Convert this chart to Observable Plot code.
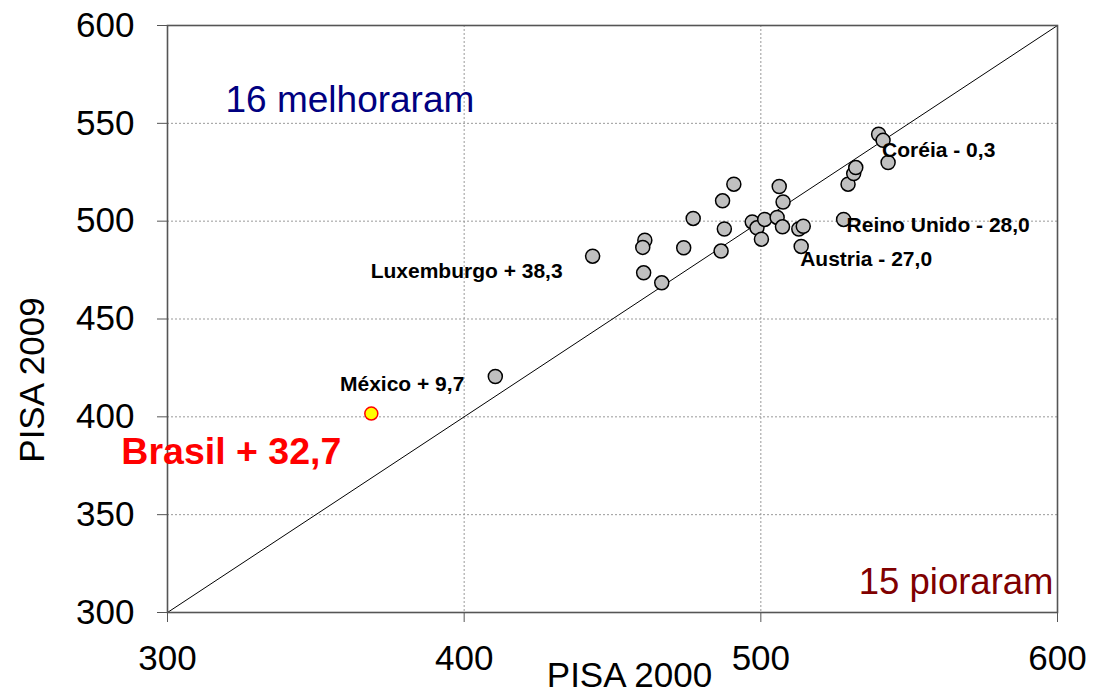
<!DOCTYPE html>
<html>
<head>
<meta charset="utf-8">
<script src="https://cdn.jsdelivr.net/npm/d3@7"></script>
<script src="https://cdn.jsdelivr.net/npm/@observablehq/plot@0.6"></script>
<style>
  html, body { margin: 0; padding: 0; background: #fff; }
  #chart svg { display: block; }
</style>
</head>
<body>
<div id="chart"></div>
<script>
// PISA scores
const pisa2000 = [443.3, 460.9, 460.2, 460.5, 466.6, 474.0, 477.2, 486.6, 487.1, 487.7, 490.9, 497.1, 498.7, 500.2, 501.3, 505.5, 506.2, 507.3, 507.5, 512.8, 514.3, 513.6, 527.9, 529.4, 531.3, 532.0, 539.7, 541.2, 542.9, 410.5, 368.7];
const pisa2009 = [482.1, 490.3, 486.6, 473.6, 468.5, 486.4, 501.4, 484.7, 510.4, 496.0, 518.9, 499.6, 496.6, 490.8, 500.9, 501.9, 517.7, 497.1, 509.8, 496.0, 497.4, 487.1, 500.9, 518.9, 524.3, 527.4, 544.4, 541.3, 530.0, 420.6, 401.7];
const countryLabels = ["Luxemburgo + 38,3", "", "", "", "", "", "", "", "", "", "", "", "", "", "", "", "", "", "", "", "", "Austria - 27,0", "Reino Unido - 28,0", "", "", "", "", "", "Coréia - 0,3", "México + 9,7", "Brasil + 32,7"];
const highlighted = "Brasil + 32,7";
const xTicks = [300, 400, 500, 600];
const yTicks = [300, 350, 400, 450, 500, 550, 600];
const diagonal = [300, 600];
const xTitle = "PISA 2000";
const yTitle = "PISA 2009";
const improvedText = "16 melhoraram";
const worsenedText = "15 pioraram";

const rows = pisa2000.map((x, i) => ({x, y: pisa2009[i], label: countryLabels[i]}));
const others = rows.filter(d => d.label !== highlighted);
const brazil = rows.filter(d => d.label === highlighted);
const lab = name => rows.filter(d => d.label === name);

const labelStyle = {x: "x", y: "y", text: "label", fontSize: 21, fontWeight: "bold", fill: "black", lineAnchor: "middle"};

const chart = Plot.plot({
  width: 1101,
  height: 699,
  marginLeft: 167,
  marginRight: 44,
  marginTop: 25,
  marginBottom: 87,
  style: {fontFamily: "'Liberation Sans', Arial, sans-serif", background: "#fff", color: "#000"},
  x: {domain: [300, 600]},
  y: {domain: [300, 600]},
  marks: [
    Plot.gridX(xTicks, {stroke: "#999", strokeOpacity: 1, strokeDasharray: "2,2", strokeWidth: 1}),
    Plot.gridY(yTicks, {stroke: "#999", strokeOpacity: 1, strokeDasharray: "2,2", strokeWidth: 1}),
    Plot.line(diagonal, {x: d => d, y: d => d, stroke: "black", strokeWidth: 1}),
    Plot.frame({stroke: "#555", strokeWidth: 1.6}),
    Plot.axisX(xTicks, {tickSize: 10, tickPadding: 23, fontSize: 35, label: null, stroke: "#555"}),
    Plot.axisY(yTicks, {tickSize: 10, tickPadding: 23, fontSize: 35, label: null, stroke: "#555"}),
    Plot.dot(others, {x: "x", y: "y", r: 7, fill: "#c0c0c0", stroke: "black", strokeWidth: 1.5}),
    Plot.dot(brazil, {x: "x", y: "y", r: 6.5, fill: "#ffff00", stroke: "red", strokeWidth: 1.5}),
    Plot.text(lab("Coréia - 0,3"), {...labelStyle, textAnchor: "start", dx: -6, dy: -12}),
    Plot.text(lab("Reino Unido - 28,0"), {...labelStyle, textAnchor: "start", dx: 3, dy: 5.5}),
    Plot.text(lab("Austria - 27,0"), {...labelStyle, textAnchor: "start", dx: -1, dy: 12.5}),
    Plot.text(lab("Luxemburgo + 38,3"), {...labelStyle, textAnchor: "end", dx: -30, dy: 15}),
    Plot.text(lab("México + 9,7"), {...labelStyle, textAnchor: "end", dx: -31, dy: 8}),
    Plot.text(brazil, {...labelStyle, fontSize: 37.5, fill: "red", textAnchor: "end", dx: -30, dy: 38}),
    Plot.text([improvedText], {frameAnchor: "top-left", textAnchor: "start", lineAnchor: "middle", dx: 58, dy: 75, fontSize: 37, fill: "#000080"}),
    Plot.text([worsenedText], {frameAnchor: "bottom-right", textAnchor: "end", lineAnchor: "middle", dx: -4, dy: -30, fontSize: 36.5, fill: "#800000"}),
    Plot.text([xTitle], {frameAnchor: "bottom", textAnchor: "middle", lineAnchor: "middle", dx: 17, dy: 63, fontSize: 35, fill: "black"}),
    Plot.text([yTitle], {frameAnchor: "left", textAnchor: "middle", lineAnchor: "middle", rotate: -90, dx: -135, dy: 61, fontSize: 35, fill: "black"})
  ]
});
document.getElementById("chart").appendChild(chart);
</script>
</body>
</html>
